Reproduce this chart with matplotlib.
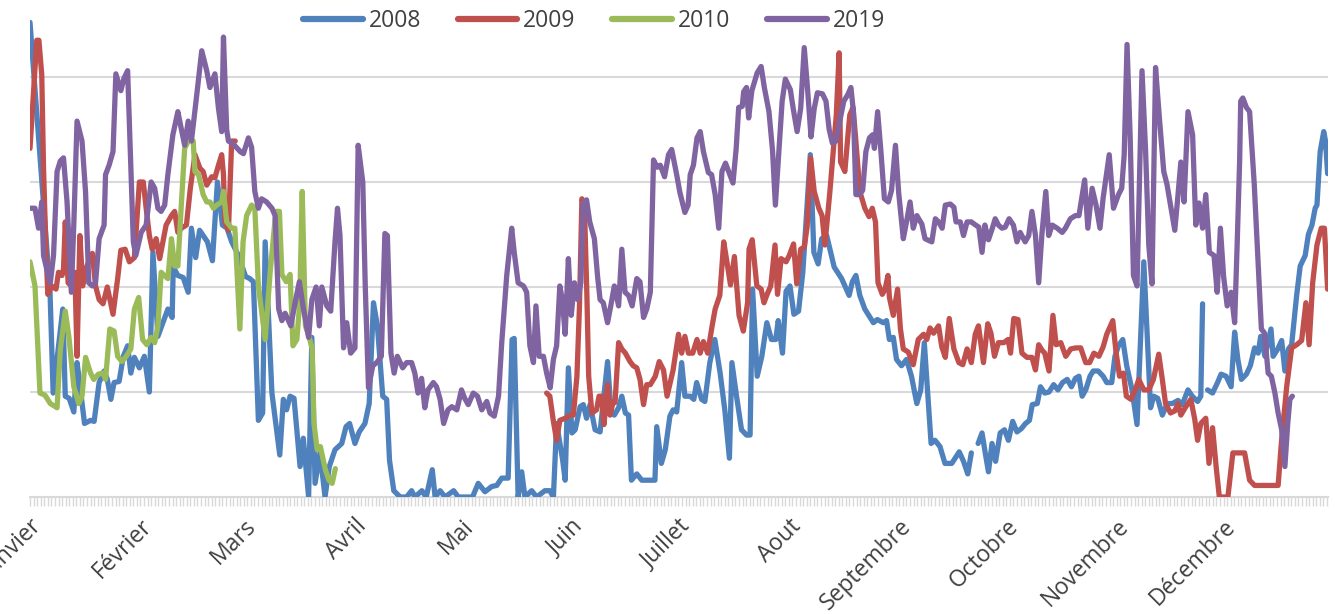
import numpy as np
import matplotlib
matplotlib.use("Agg")
import matplotlib.pyplot as plt
from matplotlib.lines import Line2D

plt.rcParams['font.family'] = ['Open Sans', 'DejaVu Sans']

months = ['Janvier', 'Février', 'Mars', 'Avril', 'Mai', 'Juin', 'Juillet',
          'Aout', 'Septembre', 'Octobre', 'Novembre', 'Décembre']
month_start = [0, 31, 60, 91, 121, 152, 182, 213, 244, 274, 305, 335]
series_names = ['2008', '2009', '2010', '2019']

nan = float('nan')

days_2008 = [0, 5.6, 6.5, 9.2, 9.9, 11, 12.3, 13.2, 13.7, 15.3, 17, 18, 19.4, 20.8, 21.7, 22.7, 23.6, 25, 26.2, 27.4, 28.3, 29.3, 30.7, 32.1, 33.5, 34.5, 35.9, 37.3, 38.7, 39.9, 40.2, 41.5, 43, 44.4, 45.3, 46.5, 47.6, 49.8, 51.2, 52.6, 54, 55.3, 56.6, 58.5, 60.5, 61.7, 62.7, 64.1, 65.3, 66, 67.9, 70.1, 71.1, 72, 73, 74.1, 75.8, 76.7, 78.2, 79.1, 80, 81.4, 82.8, 84, 85.6, 87.5, 88.7, 89.7, 91.2, 92.4, 94, 95.2, 96.4, 97.5, 99, 100.1, 100.9, 102.1, 103.9, 105.7, 107.1, 108, 110, 111.2, 112.9, 113.7, 115.1, 116.5, 118.9, 120.2, 124.2, 125.8, 127.7, 129.6, 131, 132.4, 134.2, 135.3, 135.9, 137, 138, 138.9, 140.8, 142.2, 144.5, 145.9, 146.9, 147.8, 149.5, 150.2, 151.1, 152.1, 153, 154.4, 155.3, 156.2, 157.2, 158.6, 160, 162.1, 163.1, 164, 165.2, 166.1, 167.1, 168, 168.8, 170.3, 171.7, 174.5, 175.4, 175.9, 177.2, 178.3, 179.6, 180.5, 181.5, 182.9, 183.8, 185.3, 186.3, 187.1, 188.5, 189.4, 190.8, 192.2, 193.7, 195, 196.3, 197, 198.3, 199.7, 201.1, 202.1, 202.8, 204.1, 205.4, 206.8, 208.1, 209.3, 210, 211.2, 212.2, 213.3, 214.4, 215.7, 216.9, 219, 220, 221.2, 222.2, 223.6, 225.7, 227.8, 229.9, 230.8, 231.8, 232.9, 234.3, 236.7, 237.8, 239.5, 240.4, 241.2, 242.3, 243.2, 244.6, 246, 247.4, 248.9, 250, 251, 252.9, 254, 255.4, 256.8, 258.7, 260.8, 262, 263.2, 264.2, 265, 266.1, 267.2, 268.1, 269, 270, 271, 272.3, 273.5, 274.6, 275.8, 277, 278.2, 279.4, 280.5, 281.3, 282.7, 283.6, 284.8, 286, 287.3, 288.5, 289.8, 291.1, 292.3, 293.4, 294.4, 295.3, 296.3, 297.5, 298.4, 299.8, 301.2, 302.2, 303.6, 304.5, 305.5, 306.7, 307.8, 309.3, 310.7, 312.6, 314.5, 315.4, 316.5, 317.8, 319.2, 320.6, 322.2, 323.4, 325, 326.2, 327.7, 328.6, 329.1, 329.8, 330.5, 331.9, 333.3, 334.3, 335.7, 337.1, 338.1, 339, 340, 341.4, 342.5, 343.7, 344.7, 345.4, 346.6, 348.3, 348.9, 350.2, 351.3, 352.2, 353.2, 354.1, 355.5, 356.5, 357.9, 358.8, 359.8, 360.7, 361.2, 362.1, 363.1, 363.6, 364.2]
vals_2008 = [4.52, 1.97, 0.99, 1.79, 0.96, 0.94, 0.81, 1.28, 1.15, 0.70, 0.73, 0.72, 1.09, 1.2, 1.12, 0.93, 1.09, 1.1, 1.34, 1.44, 1.18, 1.33, 1.23, 1.34, 1.0, 2.33, 1.53, 1.66, 1.79, 1.71, 2.19, 2.11, 2.09, 1.95, 2.56, 2.28, 2.54, 2.43, 2.25, 3.0, 2.59, 2.56, 2.43, 2.3, 2.1, 2.08, 2.05, 0.73, 0.8, 2.43, 0.99, 0.4, 0.93, 0.83, 0.96, 0.94, 0.29, 0.56, 0.0, 1.52, 0.13, 0.42, 0.0, 0.29, 0.45, 0.51, 0.67, 0.7, 0.51, 0.62, 0.70, 0.89, 1.85, 1.63, 0.96, 0.93, 0.35, 0.06, 0.0, 0.0, 0.06, 0.0, 0.06, 0.0, 0.26, 0.0, 0.06, 0.0, 0.06, 0.0, 0.0, 0.13, 0.05, 0.1, 0.11, 0.18, 0.18, 1.5, 1.51, 0.0, 0.24, 0.0, 0.06, 0.0, 0.06, 0.06, 0.0, 0.70, 0.35, 0.16, 1.23, 0.61, 0.64, 0.86, 0.88, 0.75, 0.88, 0.64, 0.62, 1.29, 0.8, 0.78, 0.85, 0.96, 0.8, 0.78, 0.16, 0.22, 0.16, 0.16, 0.16, 0.67, 0.32, 0.45, 0.77, 0.83, 0.81, 1.28, 0.96, 0.96, 0.93, 1.09, 0.93, 0.91, 1.28, 1.5, 1.18, 0.83, 0.37, 1.28, 0.96, 0.64, 0.59, 0.59, 1.98, 1.15, 1.34, 1.66, 1.5, 1.5, 1.68, 1.37, 1.96, 2.01, 1.74, 1.77, 2.14, 3.26, 2.33, 2.22, 2.46, 2.49, 2.19, 2.08, 1.92, 2.05, 2.11, 1.92, 1.79, 1.66, 1.69, 1.66, 1.68, 1.5, 1.52, 1.31, 1.25, 1.31, 1.15, 0.89, 1.02, 1.47, 0.51, 0.54, 0.48, 0.32, 0.32, 0.43, 0.34, 0.22, 0.42, nan, 0.51, 0.61, 0.42, 0.24, 0.51, 0.34, 0.61, 0.64, 0.54, 0.72, 0.62, 0.65, 0.7, 0.73, 0.88, 0.89, 1.05, 0.99, 1.0, 1.07, 1.02, 1.09, 1.12, 1.05, 1.13, 1.15, 0.96, 1.02, 1.15, 1.2, 1.2, 1.15, 1.09, 1.09, 1.34, 1.44, 1.5, 1.25, 1.02, 0.69, 2.24, 0.85, 0.96, 0.94, 0.78, 0.89, 0.89, 0.92, 0.88, 1.02, 0.96, 0.91, 0.96, 1.84, nan, 1.02, 0.99, 1.09, 1.17, 1.15, 1.05, 1.57, 1.31, 1.12, 1.17, 1.25, 1.42, 1.37, 1.53, 1.34, 1.6, 1.34, 1.41, 1.49, 1.2, 1.41, 1.45, 1.92, 2.2, 2.3, 2.5, 2.59, 2.75, 2.78, 3.29, 3.48, 3.39, 3.08]

days_2009 = [0, 1.9, 2.5, 3.3, 3.8, 4.4, 5, 6.1, 7.3, 8, 9, 9.4, 9.9, 10.7, 11.6, 12.6, 13.2, 14, 14.8, 16, 17.5, 18.4, 19.4, 20.5, 21.7, 23.3, 24.6, 25.5, 26.7, 27.9, 29.3, 30.7, 31.8, 32.6, 33.5, 34.3, 35.4, 36.4, 37.3, 38.2, 39.7, 40.6, 41.5, 42.5, 43.9, 45, 46.3, 47.7, 48.6, 49.6, 51, 51.9, 52.9, 53.8, 54.3, 54.7, 55.7, 56.6, 57.6, 100, 145, 145.9, 146.9, 147.8, 148.7, 150.2, 151.6, 152.5, 153.5, 154.2, 154.9, 155.6, 156.3, 156.8, 157.7, 159, 159.7, 160.4, 161.1, 162.1, 162.8, 163.7, 164.2, 165.2, 166.1, 167.1, 168.4, 169.3, 170.3, 171.2, 172.2, 173.1, 174.1, 175.5, 176.6, 177.8, 178.8, 180.5, 182, 182.9, 183.8, 184.8, 186, 187.2, 188.1, 189, 190.2, 191.4, 192.3, 193.6, 194.7, 195.6, 196.6, 197.7, 199, 200.2, 201.4, 201.8, 202.7, 204, 205.2, 206, 207, 207.9, 209.1, 209.8, 210.8, 212.2, 213.1, 214.3, 215.2, 216.3, 217.3, 218.1, 219.1, 220.1, 221.4, 222.3, 223.1, 224.5, 225.5, 226.3, 227.1, 227.5, 228.7, 229.7, 230.1, 231, 231.7, 232.9, 234.3, 235.5, 236.4, 237.3, 238, 239.2, 240, 240.8, 241.2, 242.3, 243.5, 244.3, 245.1, 246.5, 247.9, 249.3, 250.8, 251.7, 252.6, 253.6, 255, 255.9, 256.9, 258, 259.3, 260.7, 261.8, 263, 264.2, 265.3, 266.2, 267.6, 268.8, 269.7, 270.7, 271.8, 273.3, 274.5, 275.2, 276.1, 277.3, 278.4, 279.8, 281.2, 282.2, 283.1, 284, 284.8, 286, 287.1, 288, 289.3, 290.7, 292.1, 293.5, 294.9, 296.3, 297.4, 298.6, 300, 301.2, 302.2, 303.9, 304.8, 305.8, 306.9, 307.7, 309, 310.2, 311.2, 312.6, 314, 315.3, 316.8, 317.8, 318.7, 320.1, 321.3, 322.2, 323, 324.4, 325.8, 326.9, 327.7, 328.6, 330, 330.9, 331.9, 332.9, 333.8, 336.2, 337.6, 340.9, 342.3, 343.7, 350.3, 351.2, 352.7, 354.1, 355.5, 356.9, 358.1, 359, 360, 361.2, 362.4, 363.3, 364.2]
vals_2009 = [3.32, 4.35, 4.35, 4.02, 3.13, 2.43, 1.93, 2.01, 1.98, 2.14, 2.11, 2.17, 2.62, 2.04, 2.01, 2.14, 1.34, 2.49, 2.01, 2.2, 2.32, 2.01, 1.88, 1.84, 2.0, 1.74, 2.08, 2.35, 2.36, 2.24, 2.28, 3.0, 3.0, 2.75, 2.49, 2.36, 2.46, 2.27, 2.43, 2.59, 2.68, 2.72, 2.52, 2.56, 2.59, 2.94, 3.26, 3.13, 3.1, 2.97, 3.05, 3.04, 3.16, 3.26, 3.07, 2.62, 2.54, 3.39, 3.39, nan, 0.99, 0.96, 0.72, 0.54, 0.73, 0.75, 0.78, 0.78, 1.15, 1.8, 2.84, 2.78, 1.92, 1.15, 0.8, 0.83, 0.96, 0.96, 0.69, 1.07, 0.78, 0.91, 0.9, 1.47, 1.41, 1.37, 1.29, 1.25, 1.23, 1.12, 0.88, 1.07, 1.07, 1.15, 1.29, 1.21, 0.96, 1.21, 1.55, 1.37, 1.53, 1.37, 1.37, 1.5, 1.37, 1.48, 1.37, 1.62, 1.79, 1.92, 2.43, 2.24, 2.02, 2.29, 1.73, 1.58, 1.85, 2.36, 2.45, 2.01, 1.98, 1.85, 1.94, 2.01, 2.4, 1.93, 2.27, 2.24, 2.3, 2.41, 2.03, 2.36, 2.38, 2.57, 3.23, 2.91, 2.75, 2.68, 2.4, 2.91, 3.32, 3.64, 4.23, 3.19, 3.1, 3.5, 3.64, 3.71, 3.43, 2.91, 2.75, 2.67, 2.75, 2.62, 2.04, 1.93, 1.98, 2.11, 1.9, 1.73, 1.98, 1.6, 1.41, 1.38, 1.26, 1.5, 1.55, 1.5, 1.61, 1.56, 1.63, 1.43, 1.33, 1.7, 1.41, 1.28, 1.26, 1.41, 1.28, 1.55, 1.63, 1.28, 1.65, 1.56, 1.34, 1.47, 1.47, 1.5, 1.37, 1.7, 1.69, 1.37, 1.33, 1.33, 1.21, 1.45, 1.4, 1.37, 1.2, 1.73, 1.45, 1.47, 1.34, 1.41, 1.42, 1.42, 1.28, 1.28, 1.37, 1.34, 1.43, 1.55, 1.68, 1.38, 1.15, 1.18, 0.96, 0.93, 1.02, 1.12, 1.02, 1.02, 1.12, 1.36, 1.12, 0.89, 0.8, 0.82, 0.89, 0.78, 0.86, 0.93, 0.74, 0.54, 0.7, 0.75, 0.32, 0.66, 0.29, 0.0, 0.0, 0.42, 0.42, 0.16, 0.11, 0.11, 0.51, 1.05, 1.42, 1.45, 1.49, 1.85, 1.45, 2.04, 2.4, 2.56, 2.56, 1.98]

days_2010 = [0, 1.4, 2.8, 4.2, 5.7, 7.6, 8.5, 9.9, 10.9, 12.3, 13.7, 14.6, 15.6, 17, 17.9, 19.2, 20.5, 21.2, 22.4, 23.6, 24.6, 25.8, 27, 28.3, 29.3, 30.5, 31.6, 32.8, 34, 35, 35.9, 36.8, 37.7, 38.7, 39.7, 40.6, 41.5, 42.5, 43.4, 44.9, 45.8, 46.3, 47.3, 48.6, 49.6, 50.5, 51.5, 52.4, 53.8, 54.3, 55.2, 56.6, 57.5, 58.9, 59.8, 60.8, 62.2, 63.1, 64.1, 66, 67.4, 69, 70, 70.7, 71.9, 73, 73.8, 74.9, 75.7, 76.4, 77.3, 78.3, 79.2, 79.7, 80.6, 81.5, 82.9, 83.9, 84.8, 85.7]
vals_2010 = [2.24, 2.01, 0.99, 0.97, 0.89, 0.85, 1.4, 1.77, 1.53, 1.05, 0.89, 0.96, 1.33, 1.18, 1.12, 1.17, 1.18, 1.12, 1.6, 1.58, 1.34, 1.29, 1.34, 1.41, 1.79, 1.9, 1.5, 1.45, 1.52, 1.47, 1.63, 2.14, 2.11, 2.08, 2.46, 2.2, 2.2, 2.8, 3.32, 3.42, 3.39, 3.1, 3.07, 2.88, 2.81, 2.81, 2.75, 2.78, 2.81, 2.91, 2.62, 2.56, 2.56, 1.6, 2.43, 2.68, 2.78, 2.75, 2.01, 1.5, 2.14, 2.72, 2.72, 2.12, 2.05, 2.12, 1.44, 1.5, 1.85, 2.91, 1.63, 1.53, 1.41, 0.7, 0.45, 0.48, 0.26, 0.16, 0.13, 0.27]

days_2019 = [0, 1.4, 2.4, 3.3, 3.8, 4.7, 5.7, 6.6, 7.6, 8.5, 9.4, 10.4, 11.6, 12.3, 13.2, 14.6, 15.6, 16.5, 17.5, 18.4, 19.4, 20.8, 21.2, 22.2, 23.3, 24.1, 25.5, 26.4, 27.4, 28.3, 29, 29.7, 31.2, 32.6, 34, 35, 35.9, 36.8, 37.8, 38.7, 40.1, 41.5, 42.2, 43.4, 44.4, 45.3, 46.7, 48.2, 49.6, 50.5, 51.9, 52.9, 53.8, 54.3, 55.2, 55.7, 57.1, 59, 59.9, 61.3, 62.2, 63.1, 64.1, 65, 66.4, 67.9, 68.8, 69.8, 70.7, 71.6, 73.2, 74.4, 75.6, 76.7, 78.2, 79.1, 80.3, 81.2, 81.9, 83.3, 84.4, 85.6, 86.3, 87, 88, 88.9, 90, 91.2, 92.1, 93.4, 94.1, 95, 96.2, 97.3, 98.6, 99.6, 100.3, 101.3, 102.2, 103.1, 104.6, 105.7, 107.1, 108, 108.9, 109.9, 110.8, 111.7, 113.2, 114.1, 115.1, 116.1, 117.3, 118.4, 119.8, 121.1, 122, 123, 124.4, 125.6, 126.8, 128.2, 129.1, 130.3, 131.5, 132.4, 133.8, 135.2, 135.9, 137, 138.5, 139.4, 140.3, 141.3, 142, 142.9, 144.1, 145, 146, 146.9, 147.8, 148.7, 149.4, 150.2, 151.1, 151.9, 152.8, 153.7, 154.6, 155.3, 156.2, 157.1, 158.4, 159.3, 160, 160.9, 162.1, 163, 164, 165.2, 166.1, 167, 168, 169, 170.3, 171.2, 172.2, 173.1, 174.1, 175, 176, 176.9, 178.1, 179.2, 180.1, 181.5, 182.4, 183.8, 184.7, 185.3, 186.2, 187.2, 188.1, 189, 190.4, 191.3, 192.3, 193.3, 194.2, 195.2, 196.4, 197.3, 198.2, 198.9, 199.9, 200.3, 201.1, 201.7, 202.6, 204.1, 205.2, 206.1, 207.4, 208.4, 209.2, 210.2, 211.1, 212, 213.4, 214.2, 215.3, 216.3, 217.3, 218.2, 219.2, 220.1, 221, 222.4, 223.4, 224.3, 225.2, 226.2, 227.1, 228.4, 229.5, 230.4, 231.1, 231.8, 232.8, 233.7, 234.6, 235.6, 236.5, 237, 237.9, 238.8, 239.8, 240.9, 241.8, 242.9, 243.8, 245.1, 246, 247, 247.9, 248.9, 250.3, 251.2, 253.1, 254.1, 255, 256, 256.9, 258.3, 259.3, 259.9, 261.1, 262, 263, 264.2, 265.4, 266.3, 267.2, 268, 269, 270, 270.9, 271.8, 272.8, 273.7, 274.8, 276, 277, 277.9, 279.3, 280.3, 281.2, 282.2, 283.1, 284, 285.1, 285.9, 286.9, 288.3, 289.7, 290.6, 292, 293.4, 294.4, 295.2, 296, 296.9, 298.1, 299.2, 300.3, 301.2, 302.9, 304.1, 305.5, 306.4, 307.1, 307.9, 308.8, 309.7, 310.7, 312.1, 313.1, 314, 314.9, 315.9, 317, 318.2, 319.1, 320.5, 321.3, 322, 323, 323.9, 325, 326.3, 327.2, 328.1, 329.1, 330, 331, 332.3, 333.2, 334.1, 335, 336, 337.1, 338.1, 338.8, 339.5, 339.8, 340.4, 341.4, 342.3, 343.6, 345, 345.6, 346.5, 347.5, 348.4, 349.4, 350.3, 351.3, 352.2, 353, 353.6, 354.3]
vals_2019 = [2.75, 2.75, 2.56, 2.81, 2.3, 2.17, 2.04, 2.3, 3.1, 3.2, 3.23, 2.81, 1.95, 2.6, 3.58, 3.39, 2.9, 2.04, 2.01, 2.04, 2.46, 2.59, 3.07, 3.16, 3.29, 4.03, 3.87, 3.99, 4.06, 3.16, 2.43, 2.3, 2.52, 2.59, 3.0, 2.94, 2.75, 2.72, 2.78, 3.07, 3.45, 3.67, 3.55, 3.35, 3.58, 3.39, 3.8, 4.25, 4.06, 3.9, 4.03, 3.7, 3.48, 4.38, 3.5, 3.39, 3.36, 3.29, 3.27, 3.42, 3.33, 2.91, 2.75, 2.84, 2.81, 2.75, 2.68, 1.79, 1.68, 1.75, 1.63, 1.85, 2.05, 1.8, 1.52, 1.88, 2.0, 1.63, 2.0, 1.82, 1.77, 2.43, 2.75, 2.49, 1.42, 1.66, 1.37, 1.42, 3.35, 3.0, 2.0, 1.04, 1.25, 1.28, 1.34, 2.51, 2.49, 1.37, 1.18, 1.34, 1.23, 1.28, 1.28, 1.18, 0.99, 1.13, 0.85, 1.02, 1.09, 1.05, 0.93, 0.7, 0.83, 0.86, 0.83, 1.02, 0.94, 0.88, 0.99, 0.96, 0.83, 0.91, 0.8, 0.77, 0.96, 1.47, 2.11, 2.56, 2.33, 2.04, 2.01, 1.95, 1.44, 1.28, 1.82, 1.34, 1.34, 1.18, 1.04, 1.31, 1.44, 2.01, 1.88, 1.55, 2.27, 1.73, 2.04, 1.88, 2.04, 2.8, 2.83, 2.62, 2.46, 2.1, 1.88, 1.85, 1.66, 1.82, 2.01, 1.82, 2.36, 1.95, 1.92, 1.82, 2.08, 2.05, 1.71, 1.79, 1.95, 3.21, 3.14, 3.16, 3.05, 3.26, 3.31, 3.07, 2.9, 2.71, 2.78, 3.07, 3.16, 3.42, 3.48, 3.29, 3.09, 3.07, 2.88, 2.56, 3.1, 3.18, 3.07, 2.99, 3.32, 3.71, 3.72, 3.86, 3.9, 3.61, 3.87, 4.04, 4.1, 3.9, 3.67, 3.3, 2.78, 3.3, 3.77, 3.98, 3.88, 3.7, 3.48, 3.7, 4.28, 3.9, 3.43, 3.7, 3.85, 3.84, 3.77, 3.5, 3.37, 3.39, 3.55, 3.77, 3.83, 3.9, 3.67, 2.88, 2.88, 2.92, 3.29, 3.42, 3.45, 3.32, 3.67, 3.3, 2.84, 2.81, 2.92, 3.35, 2.9, 2.46, 2.62, 2.81, 2.56, 2.68, 2.6, 2.46, 2.43, 2.65, 2.62, 2.56, 2.78, 2.79, 2.76, 2.62, 2.62, 2.49, 2.62, 2.62, 2.59, 2.57, 2.33, 2.59, 2.45, 2.55, 2.65, 2.59, 2.56, 2.57, 2.65, 2.59, 2.43, 2.52, 2.43, 2.49, 2.72, 2.49, 2.04, 2.5, 2.91, 2.49, 2.59, 2.56, 2.52, 2.56, 2.65, 2.68, 2.68, 2.85, 3.02, 2.56, 2.94, 2.78, 2.56, 2.85, 3.26, 2.75, 2.88, 2.94, 3.26, 4.31, 3.4, 2.11, 2.01, 4.06, 3.3, 2.4, 2.03, 4.09, 3.6, 3.1, 2.98, 2.7, 2.54, 2.8, 3.19, 2.81, 3.67, 3.45, 2.59, 2.8, 2.56, 2.88, 2.33, 2.3, 1.95, 2.56, 2.1, 1.82, 1.95, 1.66, 2.4, 3.2, 3.77, 3.8, 3.71, 3.67, 2.98, 2.0, 1.6, 1.56, 1.18, 1.15, 0.99, 0.8, 0.64, 0.29, 0.7, 0.93, 0.96]

colors = ['#4F81BD', '#C0504D', '#9BBB59', '#8064A2']
all_days = [days_2008, days_2009, days_2010, days_2019]
all_vals = [vals_2008, vals_2009, vals_2010, vals_2019]

W, H = 1336, 614
fig = plt.figure(figsize=(W / 100, H / 100), dpi=100)
ax = fig.add_axes([30 / W, 117 / H, 1298 / W, 525 / H])
ax.set_xlim(0, 364.3)
ax.set_ylim(0, 5)

for d, v, c in zip(all_days, all_vals, colors):
    ax.plot(d, v, color=c, lw=3.8, solid_joinstyle='round',
            solid_capstyle='round', zorder=3)

ax.set_yticks([1, 2, 3, 4, 5])
ax.tick_params(axis='y', length=0, labelleft=False)
ax.grid(axis='y', color='#D9D9D9', lw=1.5, zorder=0)
for s in ['left', 'right', 'top']:
    ax.spines[s].set_visible(False)
ax.spines['bottom'].set_color('#D9D9D9')
ax.spines['bottom'].set_linewidth(1.5)

ax.set_xticks(month_start)
ax.set_xticklabels(months, rotation=45, ha='right', va='top',
                   rotation_mode='anchor', fontsize=16.5, color='#404040')
ax.set_xticks(np.arange(0, 365), minor=True)
ax.tick_params(axis='x', which='both', color='#D9D9D9', length=6.5, width=1,
               direction='out')
ax.tick_params(axis='x', which='major', pad=6)

handles = [Line2D([0], [0], color=c, lw=4.5, solid_capstyle='round') for c in colors]
leg = fig.legend(handles, series_names, loc='center', ncol=4,
                 bbox_to_anchor=(594 / W, 1 - 21 / H), frameon=False,
                 fontsize=16.5, handlelength=2.6, handletextpad=0.26,
                 columnspacing=1.6)
for t in leg.get_texts():
    t.set_color('#404040')

fig.savefig('out.png', dpi=100)
